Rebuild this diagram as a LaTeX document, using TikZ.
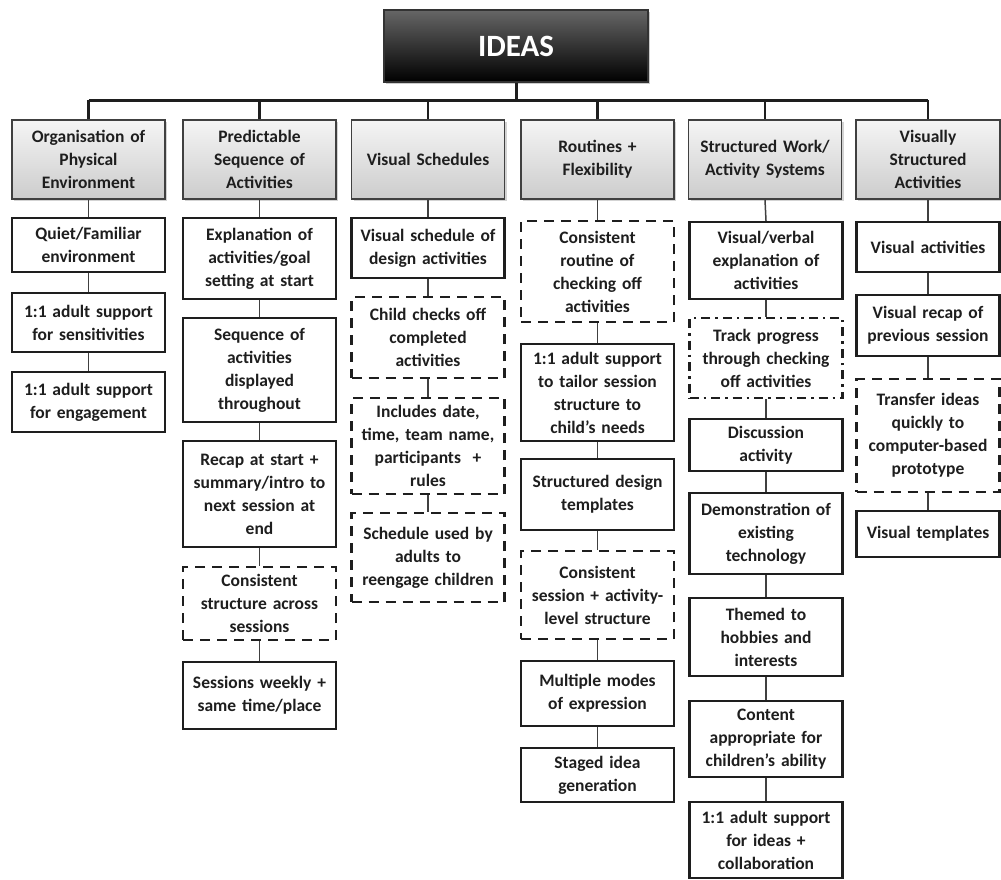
\documentclass[tikz,border=0pt]{standalone}
\usepackage{fontspec}
\setmainfont{Carlito}
\usetikzlibrary{shadows}
\newcommand\bxfont{\fontsize{17.5}{23}\selectfont\bfseries}
\newcommand\topfont{\fontsize{31}{36}\selectfont\bfseries}
\definecolor{ink}{HTML}{1E1E1E}
\tikzset{
  box/.style={draw=ink, line width=2.4pt, fill=white, minimum width=153pt,
    text width=148pt, align=center, inner sep=0pt, font=\bxfont, text=ink},
  dbox/.style={box, dash pattern=on 10pt off 7pt},
  ddbox/.style={box, dash pattern=on 9pt off 5pt on 2.5pt off 5pt},
  head/.style={draw=ink!85, line width=1.6pt, top color=gray!8, bottom color=gray!40,
    minimum width=153pt, minimum height=79pt, text width=148pt, align=center,
    inner sep=0pt, font=\bxfont, text=ink,
    drop shadow={shadow xshift=2pt, shadow yshift=-2pt, opacity=0.35}},
  topbox/.style={draw=black!80, line width=1.2pt, top color=black!60, bottom color=black,
    minimum width=264pt, minimum height=72pt, font=\topfont, text=white,
    drop shadow={shadow xshift=2pt, shadow yshift=-2pt, opacity=0.4}},
  bus/.style={draw=ink, line width=3pt},
  drop/.style={draw=ink, line width=2.2pt},
  conn/.style={draw=ink!85, line width=1.5pt}
}
\begin{document}
\begin{tikzpicture}[x=1pt,y=-1pt]
\useasboundingbox (0,0) rectangle (1001,879);

% root and tier of categories
\node[topbox] (ideas) at (516,46) {IDEAS};
\coordinate (busL) at (88.5,100);
\coordinate (busR) at (928,100);

\node[head] (h1) at (88.5,159.5) {Organisation of\\Physical\\Environment};
\node[head] (h2) at (259.5,159.5) {Predictable\\Sequence of\\Activities};
\node[head] (h3) at (428,159.5) {Visual Schedules};
\node[head] (h4) at (597.5,159.5) {Routines +\\Flexibility};
\node[head] (h5) at (765,159.5) {Structured Work/\\Activity Systems};
\node[head, minimum width=144pt, text width=140pt] (h6) at (928,159.5) {Visually\\Structured\\Activities};

\draw[bus] (busL) -- (busR);
\draw[bus] (ideas.south) -- (ideas.south |- busL);
\foreach \h in {h1,h2,h3,h4,h5,h6}
  \draw[drop] (\h.north |- busL) -- (\h.north);

% column 1
\node[box, minimum height=54pt] (a1) at (88.5,245) {Quiet/Familiar\\environment};
\node[box, minimum height=59pt] (a2) at (88.5,322.5) {1:1 adult support\\for sensitivities};
\node[box, minimum height=60pt] (a3) at (88.5,402) {1:1 adult support\\for engagement};

% column 2
\node[box, minimum height=81pt] (b1) at (259.5,258.5) {Explanation of\\activities/goal\\setting at start};
\node[box, minimum height=104pt] (b2) at (259.5,370) {Sequence of\\activities\\displayed\\throughout};
\node[box, minimum height=106pt] (b3) at (259.5,494) {Recap at start +\\summary/intro to\\next session at\\end};
\node[dbox, minimum height=73pt] (b4) at (259.5,603.5) {Consistent\\structure across\\sessions};
\node[box, minimum height=67pt] (b5) at (259.5,695.5) {Sessions weekly +\\same time/place};

% column 3
\node[box, minimum height=60pt] (c1) at (428,248) {Visual schedule of\\design activities};
\node[dbox, minimum height=81pt] (c2) at (428,337.5) {Child checks off\\completed\\activities};
\node[dbox, minimum height=96pt] (c3) at (428,446) {Includes date,\\time, team name,\\participants\ \ +\\rules};
\node[dbox, minimum height=89pt] (c4) at (428,557.5) {Schedule used by\\adults to\\reengage children};

% column 4
\node[dbox, minimum height=101pt] (d1) at (597.5,271.5) {Consistent\\routine of\\checking off\\activities};
\node[box, minimum height=97pt] (d2) at (597.5,392.5) {1:1 adult support\\to tailor session\\structure to\\child’s needs};
\node[box, minimum height=71pt] (d3) at (597.5,494.5) {Structured design\\templates};
\node[dbox, minimum height=88pt] (d4) at (597.5,595) {Consistent\\session + activity-\\level structure};
\node[box, minimum height=65pt] (d5) at (597.5,693.5) {Multiple modes\\of expression};
\node[box, minimum height=54pt] (d6) at (597.5,775) {Staged idea\\generation};

% column 5
\node[box, minimum height=77pt] (e1) at (766,260.5) {Visual/verbal\\explanation of\\activities};
\node[ddbox, minimum height=80pt] (e2) at (766,358) {Track progress\\through checking\\off activities};
\node[box, minimum height=52pt] (e3) at (766,445) {Discussion\\activity};
\node[box, minimum height=81pt] (e4) at (766,533.5) {Demonstration of\\existing\\technology};
\node[box, minimum height=78pt] (e5) at (766,637) {Themed to\\hobbies and\\interests};
\node[box, minimum height=76pt] (e6) at (766,739) {Content\\appropriate for\\children’s ability};
\node[box, minimum height=76pt] (e7) at (766,840) {1:1 adult support\\for ideas +\\collaboration};

% column 6
\node[box, minimum width=143pt, text width=140pt, minimum height=50pt] (f1) at (928,247) {Visual activities};
\node[box, minimum width=143pt, text width=140pt, minimum height=61pt] (f2) at (928,325.5) {Visual recap of\\previous session};
\node[dbox, minimum width=143pt, text width=140pt, minimum height=113pt] (f3) at (928,435.5) {Transfer ideas\\quickly to\\computer-based\\prototype};
\node[box, minimum width=143pt, text width=140pt, minimum height=46pt] (f4) at (928,534) {Visual templates};

% vertical links inside each column
\draw[conn] (h1.south) -- (a1.north);
\draw[conn] (a1.south) -- (a2.north);
\draw[conn] (a2.south) -- (a3.north);

\draw[conn] (h2.south) -- (b1.north);
\draw[conn] (b1.south) -- (b2.north);
\draw[conn] (b2.south) -- (b3.north);
\draw[conn] (b3.south) -- (b4.north);
\draw[conn] (b4.south) -- (b5.north);

\draw[conn] (h3.south) -- (c1.north);
\draw[conn] (c1.south) -- (c2.north);
\draw[conn] (c2.south) -- (c3.north);
\draw[conn] (c3.south) -- (c4.north);

\draw[conn] (h4.south) -- (d1.north);
\draw[conn] (d1.south) -- (d2.north);
\draw[conn] (d2.south) -- (d3.north);
\draw[conn] (d3.south) -- (d4.north);
\draw[conn] (d4.south) -- (d5.north);
\draw[conn] (d5.south) -- (d6.north);

\draw[conn] (h5.south) -- (e1.north);
\draw[conn] (e1.south) -- (e2.north);
\draw[conn] (e2.south) -- (e3.north);
\draw[conn] (e3.south) -- (e4.north);
\draw[conn] (e4.south) -- (e5.north);
\draw[conn] (e5.south) -- (e6.north);
\draw[conn] (e6.south) -- (e7.north);

\draw[conn] (h6.south) -- (f1.north);
\draw[conn] (f1.south) -- (f2.north);
\draw[conn] (f2.south) -- (f3.north);
\draw[conn] (f3.south) -- (f4.north);
\end{tikzpicture}
\end{document}
